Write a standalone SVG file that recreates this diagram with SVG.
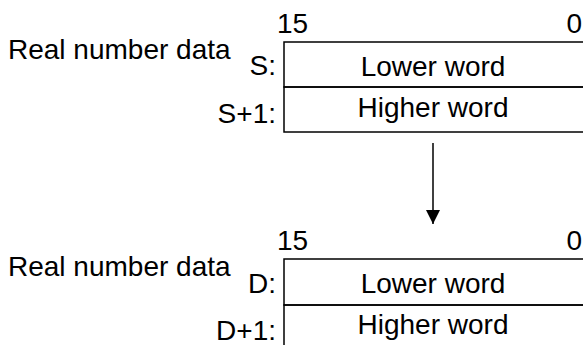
<svg xmlns="http://www.w3.org/2000/svg" width="583" height="345" viewBox="0 0 583 345">
<defs>
<style>
text{font-family:"Liberation Sans",Arial,sans-serif;font-size:28px;fill:#000}
.m{text-anchor:middle}
.e{text-anchor:end}
.box{fill:none;stroke:#000;stroke-width:1.5}
</style>
<marker id="ah" viewBox="0 0 14 14" refX="14" refY="7" markerWidth="14" markerHeight="14" markerUnits="userSpaceOnUse" orient="auto">
<path d="M0,0 L14,7 L0,14 Z" fill="#000"/>
</marker>
</defs>
<g id="source">
<text x="8" y="59">Real number data</text>
<text x="277" y="33">15</text>
<text class="e" x="582" y="33">0</text>
<text class="e" x="276" y="75">S:</text>
<text class="e" x="276" y="123">S+1:</text>
<rect class="box" x="284" y="42" width="320" height="45"/>
<rect class="box" x="284" y="87" width="320" height="45"/>
<text class="m" x="433" y="76">Lower word</text>
<text class="m" x="433" y="117">Higher word</text>
</g>
<g id="connectors">
<line x1="433" y1="143" x2="433" y2="224" stroke="#000" stroke-width="1.5" marker-end="url(#ah)"/>
</g>
<g id="dest">
<text x="8" y="276">Real number data</text>
<text x="277" y="250">15</text>
<text class="e" x="582" y="250">0</text>
<text class="e" x="276" y="293">D:</text>
<text class="e" x="276" y="340">D+1:</text>
<rect class="box" x="284" y="259" width="320" height="46"/>
<rect class="box" x="284" y="305" width="320" height="46"/>
<text class="m" x="433" y="293">Lower word</text>
<text class="m" x="433" y="334">Higher word</text>
</g>
</svg>
